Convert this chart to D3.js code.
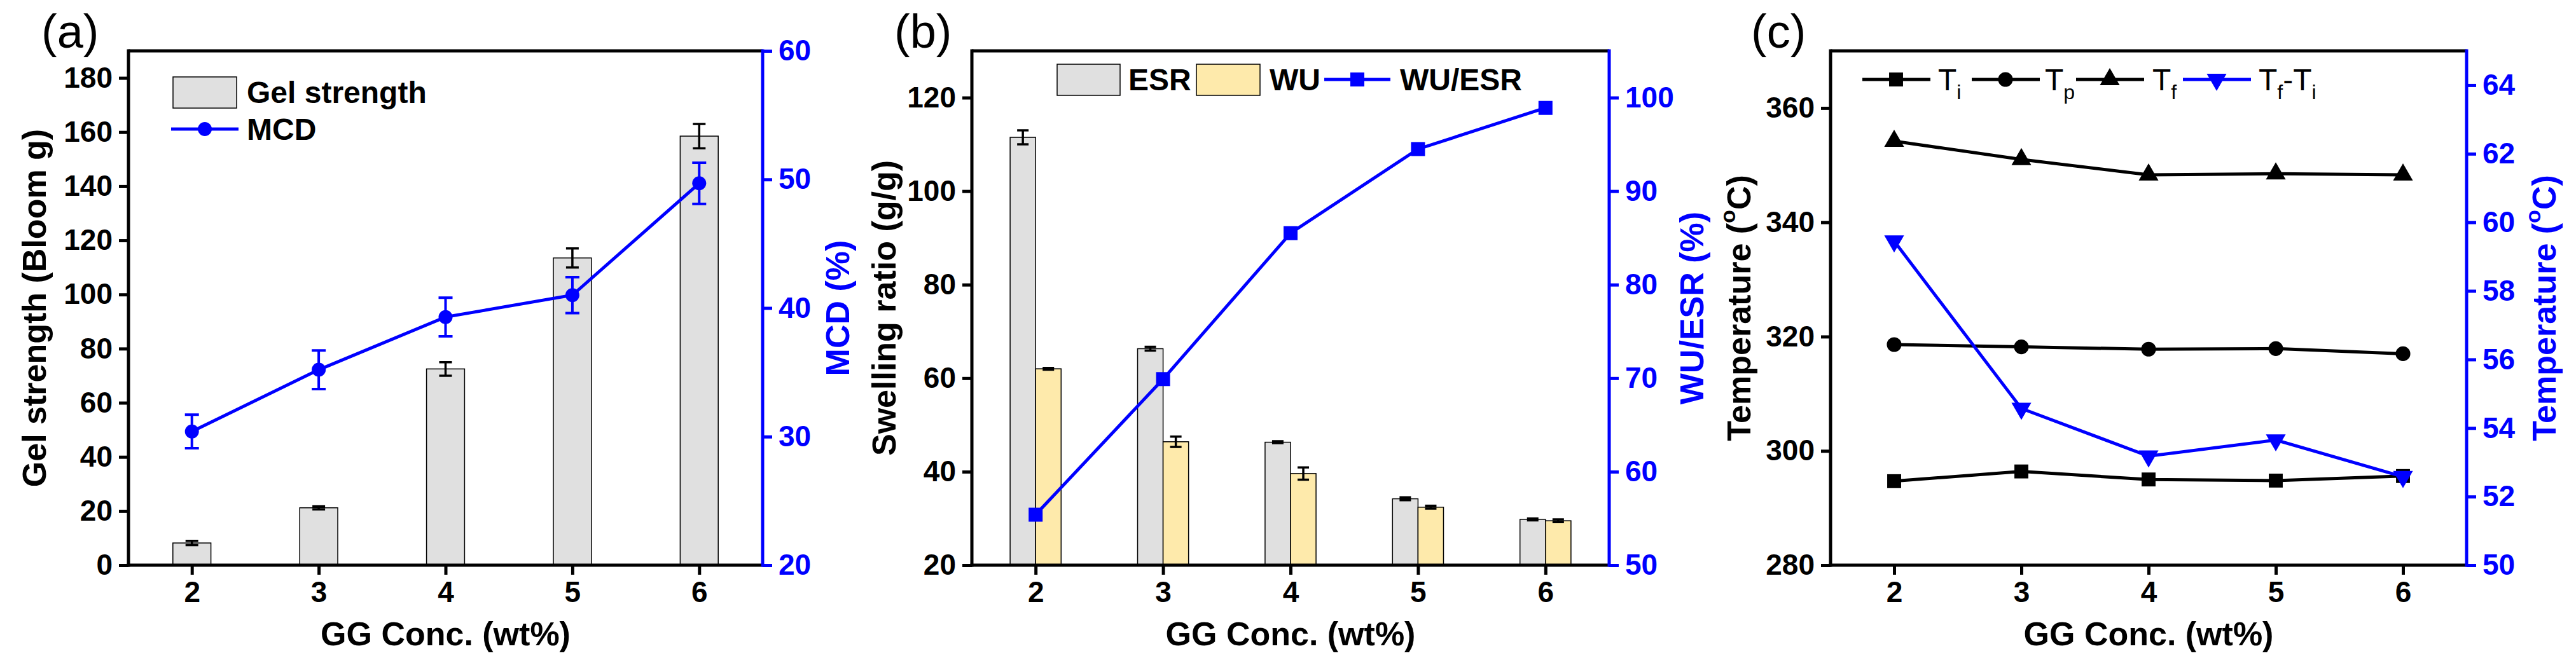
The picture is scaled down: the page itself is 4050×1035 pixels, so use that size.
<!DOCTYPE html>
<html><head><meta charset="utf-8">
<script src="https://cdn.jsdelivr.net/npm/d3@7"></script>
<style>body{margin:0;background:#fff}svg{display:block}text{font-family:"Liberation Sans",Arial,sans-serif}</style>
</head><body><svg id="c" width="4050" height="1035"></svg>
<script>
const conc = [2, 3, 4, 5, 6];
const gelStrength = [8.2, 21.2, 72.5, 113.5, 158.5];
const gelErr = [0.8, 0.6, 2.5, 3.5, 4.5];
const mcd = [30.4, 35.2, 39.3, 41.0, 49.7];
const mcdErr = [1.3, 1.5, 1.5, 1.4, 1.6];
const esr = [111.5, 66.3, 46.3, 34.2, 29.8];
const esrErr = [1.5, 0.4, 0.2, 0.3, 0.2];
const wu = [62.0, 46.4, 39.6, 32.4, 29.5];
const wuErr = [0.2, 1.1, 1.3, 0.3, 0.3];
const wuEsr = [55.4, 69.9, 85.5, 94.5, 98.9];
const Ti = [294.7, 296.4, 295.0, 294.8, 295.6];
const Tp = [318.6, 318.2, 317.8, 317.9, 317.0];
const Tf = [354.2, 351.0, 348.3, 348.5, 348.3];
const TfTi = [59.45, 54.57, 53.18, 53.65, 52.58];

const svg = d3.select("#c");
const BLUE = "#0000ff";
const TOP = 80, BOT = 889;

function panel(o){
  const g = svg.append("g");
  const x = d3.scaleLinear().domain([1.5, 6.5]).range([o.left, o.right]);
  const yL = d3.scaleLinear().domain(o.yL).range([BOT, TOP]);
  const yR = d3.scaleLinear().domain(o.yR).range([BOT, TOP]);
  // frame top
  g.append("line").attr("x1", o.left).attr("x2", o.right).attr("y1", TOP).attr("y2", TOP).attr("stroke", "#000").attr("stroke-width", 5);
  // axes
  function axis(scale, gen, major, minor, tr, color, fmt){
    const a = g.append("g").attr("transform", tr);
    a.call(gen(scale).tickValues(minor).tickSize(8).tickFormat(""));
    a.call(gen(scale).tickValues(major).tickSize(15).tickPadding(10).tickFormat(fmt || d3.format("d")));
    a.selectAll(".domain").remove();
    a.selectAll("line").attr("stroke", color).attr("stroke-width", 5);
    a.selectAll("text").attr("fill", color).style("font-size", "46px").style("font-weight", "bold").attr("font-family", null);
    return a;
  }
  // content first
  o.draw(g, x, yL, yR);
  axis(x, d3.axisBottom, conc, [1.5,2.5,3.5,4.5,5.5,6.5], `translate(0,${BOT})`, "#000");
  axis(yL, d3.axisLeft, o.ticksL, o.minorL, `translate(${o.left},0)`, "#000");
  axis(yR, d3.axisRight, o.ticksR, o.minorR, `translate(${o.right},0)`, BLUE);
  g.append("line").attr("x1", o.left).attr("x2", o.left).attr("y1", TOP-2.5).attr("y2", BOT+2.5).attr("stroke", "#000").attr("stroke-width", 5);
  g.append("line").attr("x1", o.left-2.5).attr("x2", o.right).attr("y1", BOT).attr("y2", BOT).attr("stroke", "#000").attr("stroke-width", 5);
  g.append("line").attr("x1", o.right).attr("x2", o.right).attr("y1", TOP-2.5).attr("y2", BOT+2.5).attr("stroke", BLUE).attr("stroke-width", 5);
  g.selectAll(".tick text").attr("font-family", "Liberation Sans, Arial");
  // titles
  const ts = "52px";
  g.append("text").attr("x", (o.left+o.right)/2).attr("y", 1015).attr("text-anchor", "middle").style("font-size", ts).style("font-weight", "bold").text("GG Conc. (wt%)");
  const tl = g.append("text").attr("transform", `translate(${o.left-o.lOff},${(TOP+BOT)/2}) rotate(-90)`).attr("text-anchor", "middle").attr("dominant-baseline", "central").style("font-size", ts).style("font-weight", "bold");
  o.titleL(tl);
  const tr = g.append("text").attr("transform", `translate(${o.right+o.rOff},${(TOP+BOT)/2}) rotate(-90)`).attr("text-anchor", "middle").attr("dominant-baseline", "central").attr("fill", BLUE).style("font-size", ts).style("font-weight", "bold");
  o.titleR(tr);
  g.append("text").attr("x", o.labX).attr("y", 75).style("font-size", "74px").text(o.lab);
  return g;
}

function errBars(g, xs, ys, es, yScale, color, w, cap){
  g.selectAll(null).data(xs).enter().append("path")
    .attr("d", (d, i) => {
      const cx = d, t = yScale(ys[i] + es[i]), b = yScale(ys[i] - es[i]);
      return `M${cx-cap},${t}H${cx+cap}M${cx},${t}V${b}M${cx-cap},${b}H${cx+cap}`;
    }).attr("stroke", color).attr("stroke-width", w).attr("fill", "none");
}

// Panel (a)
panel({left: 202, right: 1199, yL: [0, 190], yR: [20, 60], ticksL: d3.range(0, 181, 20), minorL: d3.range(10, 191, 20),
  ticksR: [20, 30, 40, 50, 60], minorR: [25, 35, 45, 55], lOff: 148, rOff: 118, labX: 65, lab: "(a)",
  titleL: t => t.text("Gel strength (Bloom g)"), titleR: t => t.text("MCD (%)"),
  draw: (g, x, yL, yR) => {
    const bw = x(2.3) - x(2);
    g.selectAll(null).data(conc).enter().append("rect")
      .attr("x", d => x(d) - bw/2).attr("width", bw)
      .attr("y", (d, i) => yL(gelStrength[i])).attr("height", (d, i) => yL(0) - yL(gelStrength[i]))
      .attr("fill", "#e0e0e0").attr("stroke", "#000").attr("stroke-width", 1.5);
    errBars(g, conc.map(x), gelStrength, gelErr, yL, "#000", 3.5, 10);
    g.append("path").datum(conc).attr("d", d3.line().x(d => x(d)).y((d, i) => yR(mcd[i])))
      .attr("fill", "none").attr("stroke", BLUE).attr("stroke-width", 5);
    errBars(g, conc.map(x), mcd, mcdErr, yR, BLUE, 4, 11);
    g.selectAll(null).data(conc).enter().append("circle").attr("cx", d => x(d)).attr("cy", (d, i) => yR(mcd[i])).attr("r", 11).attr("fill", BLUE);
    // legend
    g.append("rect").attr("x", 272).attr("y", 121).attr("width", 100).attr("height", 49).attr("fill", "#e0e0e0").attr("stroke", "#000").attr("stroke-width", 1.5);
    g.append("text").attr("x", 388).attr("y", 162).style("font-size", "48px").style("font-weight", "bold").text("Gel strength");
    g.append("line").attr("x1", 269).attr("x2", 375).attr("y1", 203).attr("y2", 203).attr("stroke", BLUE).attr("stroke-width", 5);
    g.append("circle").attr("cx", 322).attr("cy", 203).attr("r", 11).attr("fill", BLUE);
    g.append("text").attr("x", 388).attr("y", 220).style("font-size", "48px").style("font-weight", "bold").text("MCD");
  }});

// Panel (b)
panel({left: 1528, right: 2530, yL: [20, 130], yR: [50, 105], ticksL: d3.range(20, 121, 20), minorL: d3.range(30, 131, 20),
  ticksR: d3.range(50, 101, 10), minorR: d3.range(55, 106, 10), lOff: 138, rOff: 130, labX: 1406, lab: "(b)",
  titleL: t => t.text("Swelling ratio (g/g)"), titleR: t => t.text("WU/ESR (%)"),
  draw: (g, x, yL, yR) => {
    const bw = x(2.2) - x(2);
    g.selectAll(null).data(conc).enter().append("rect")
      .attr("x", d => x(d) - bw).attr("width", bw)
      .attr("y", (d, i) => yL(esr[i])).attr("height", (d, i) => yL(20) - yL(esr[i]))
      .attr("fill", "#e0e0e0").attr("stroke", "#000").attr("stroke-width", 1.5);
    g.selectAll(null).data(conc).enter().append("rect")
      .attr("x", d => x(d)).attr("width", bw)
      .attr("y", (d, i) => yL(wu[i])).attr("height", (d, i) => yL(20) - yL(wu[i]))
      .attr("fill", "#feeaab").attr("stroke", "#000").attr("stroke-width", 1.5);
    errBars(g, conc.map(d => x(d) - bw/2), esr, esrErr, yL, "#000", 3.5, 9);
    errBars(g, conc.map(d => x(d) + bw/2), wu, wuErr, yL, "#000", 3.5, 9);
    g.append("path").datum(conc).attr("d", d3.line().x(d => x(d)).y((d, i) => yR(wuEsr[i])))
      .attr("fill", "none").attr("stroke", BLUE).attr("stroke-width", 5);
    g.selectAll(null).data(conc).enter().append("rect").attr("x", d => x(d) - 11).attr("y", (d, i) => yR(wuEsr[i]) - 11)
      .attr("width", 22).attr("height", 22).attr("fill", BLUE);
    // legend
    g.append("rect").attr("x", 1662).attr("y", 101).attr("width", 99).attr("height", 49).attr("fill", "#e0e0e0").attr("stroke", "#000").attr("stroke-width", 1.5);
    g.append("text").attr("x", 1774).attr("y", 142).style("font-size", "48px").style("font-weight", "bold").text("ESR");
    g.append("rect").attr("x", 1881).attr("y", 101).attr("width", 100).attr("height", 49).attr("fill", "#feeaab").attr("stroke", "#000").attr("stroke-width", 1.5);
    g.append("text").attr("x", 1996).attr("y", 142).style("font-size", "48px").style("font-weight", "bold").text("WU");
    g.append("line").attr("x1", 2082).attr("x2", 2186).attr("y1", 125).attr("y2", 125).attr("stroke", BLUE).attr("stroke-width", 5);
    g.append("rect").attr("x", 2123).attr("y", 114).attr("width", 22).attr("height", 22).attr("fill", BLUE);
    g.append("text").attr("x", 2201).attr("y", 142).style("font-size", "48px").style("font-weight", "bold").text("WU/ESR");
  }});

// Panel (c)
const sym = {square: d3.symbolSquare, circle: d3.symbolCircle, triangle: d3.symbolTriangle};
panel({left: 2878, right: 3878, yL: [280, 370], yR: [50, 65], ticksL: d3.range(280, 361, 20), minorL: d3.range(290, 371, 20),
  ticksR: d3.range(50, 65, 2), minorR: d3.range(51, 66, 2), lOff: 144, rOff: 122, labX: 2753, lab: "(c)",
  titleL: t => { t.text("Temperature ("); t.append("tspan").attr("dy", -18).style("font-size", "34px").text("o"); t.append("tspan").attr("dy", 18).text("C)"); },
  titleR: t => { t.text("Temperature ("); t.append("tspan").attr("dy", -18).style("font-size", "34px").text("o"); t.append("tspan").attr("dy", 18).text("C)"); },
  draw: (g, x, yL, yR) => {
    const series = [[Ti, "square", 480], [Tp, "circle", 420], [Tf, "triangle", 420]];
    series.forEach(([vals, s, size]) => {
      g.append("path").datum(conc).attr("d", d3.line().x(d => x(d)).y((d, i) => yL(vals[i])))
        .attr("fill", "none").attr("stroke", "#000").attr("stroke-width", 5);
      g.selectAll(null).data(conc).enter().append("path")
        .attr("transform", (d, i) => `translate(${x(d)},${yL(vals[i])})`)
        .attr("d", d3.symbol(sym[s], size)).attr("fill", "#000");
    });
    g.append("path").datum(conc).attr("d", d3.line().x(d => x(d)).y((d, i) => yR(TfTi[i])))
      .attr("fill", "none").attr("stroke", BLUE).attr("stroke-width", 5);
    g.selectAll(null).data(conc).enter().append("path")
      .attr("transform", (d, i) => `translate(${x(d)},${yR(TfTi[i])}) rotate(180)`)
      .attr("d", d3.symbol(d3.symbolTriangle, 420)).attr("fill", BLUE);
    // legend
    const items = [["i", "square", 2928, 3047, "#000"], ["p", "circle", 3100, 3215, "#000"], ["f", "triangle", 3264, 3384, "#000"], ["f", "down", 3432, 3551, BLUE]];
    items.forEach(([sub, s, lx, tx, col]) => {
      g.append("line").attr("x1", lx).attr("x2", lx + 107).attr("y1", 125).attr("y2", 125).attr("stroke", col).attr("stroke-width", 5);
      g.append("path").attr("transform", `translate(${lx + 53},125)` + (s === "down" ? " rotate(180)" : ""))
        .attr("d", d3.symbol(s === "down" ? d3.symbolTriangle : sym[s], s === "square" ? 480 : 420)).attr("fill", col);
      const t = g.append("text").attr("x", tx).attr("y", 142).style("font-size", "48px");
      t.append("tspan").text("T");
      t.append("tspan").attr("dy", 14).style("font-size", "32px").text(sub);
      if (s === "down") {
        t.append("tspan").attr("dy", -14).text("-T");
        t.append("tspan").attr("dy", 14).style("font-size", "32px").text("i");
      }
    });
  }});
</script></body></html>
